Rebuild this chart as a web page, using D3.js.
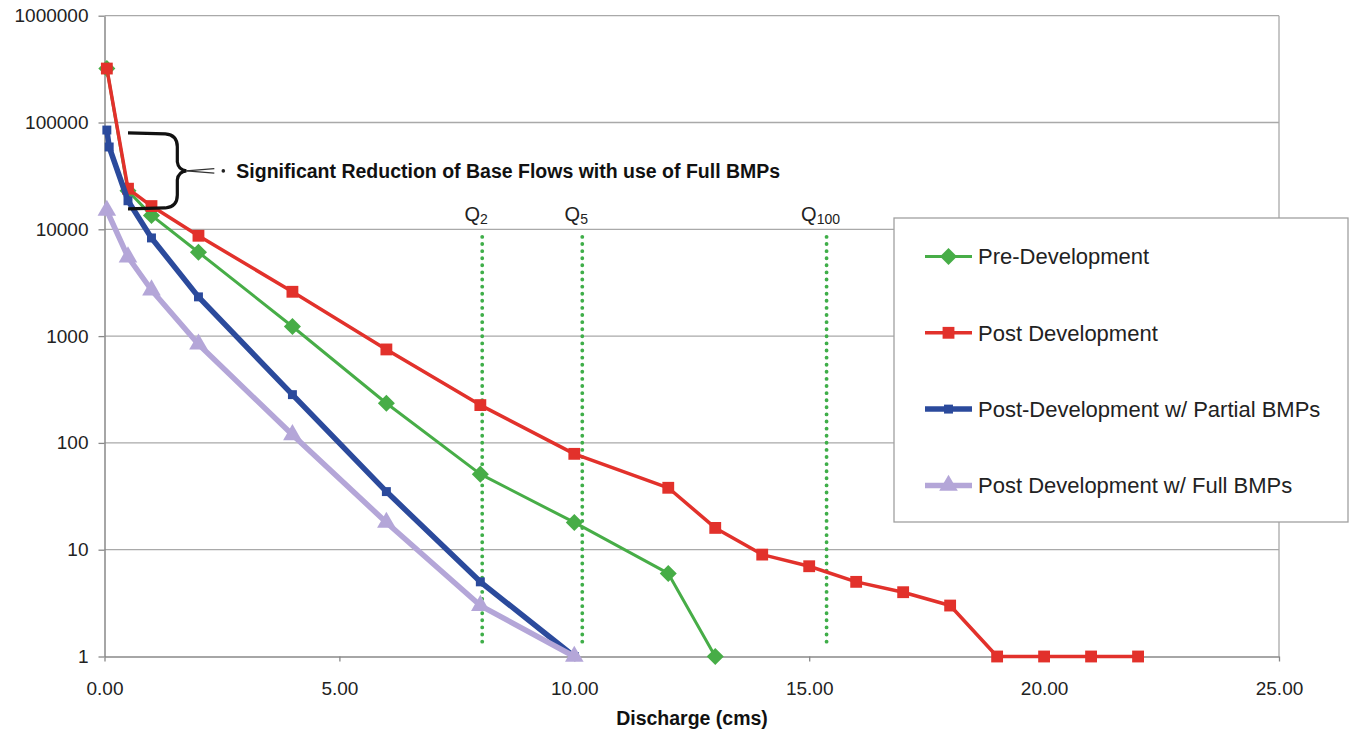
<!DOCTYPE html>
<html>
<head>
<meta charset="utf-8">
<script src="https://cdn.jsdelivr.net/npm/d3@7"></script>
<style>
  body { margin: 0; background: #fff; }
  svg { display: block; font-family: "Liberation Sans", Arial, sans-serif; }
</style>
</head>
<body>
<svg width="1353" height="733"></svg>
<script>
// series data
var xPre = [0.05, 0.5, 1, 2, 4, 6, 8, 10, 12, 13];
var yPre = [320000, 23000, 13500, 6100, 1230, 235, 51, 18, 6, 1];

var xPost = [0.05, 0.5, 1, 2, 4, 6, 8, 10, 12, 13, 14, 15, 16, 17, 18, 19, 20, 21, 22];
var yPost = [320000, 24000, 16500, 8700, 2600, 750, 226, 79, 38, 16, 9, 7, 5, 4, 3, 1, 1, 1, 1];

var xPartial = [0.05, 0.1, 0.5, 1, 2, 4, 6, 8, 10];
var yPartial = [85000, 59000, 18500, 8300, 2330, 283, 35, 5, 1];

var xFull = [0.05, 0.5, 1, 2, 4, 6, 8, 10];
var yFull = [15000, 5500, 2700, 840, 119, 18, 3, 1];

var seriesNames = ['Pre-Development', 'Post Development', 'Post-Development w/ Partial BMPs', 'Post Development w/ Full BMPs'];

var xTicks = [0, 5, 10, 15, 20, 25];
var yTicks = [1, 10, 100, 1000, 10000, 100000, 1000000];

// return-period discharges
var qLabels = ['2', '5', '100'];
var qValues = [8.04, 10.17, 15.37];
var qRange = [1.2, 8500];

// bracket annotation (data units)
var braceX = [0.5, 1.55];
var braceY = [80000, 15500];
var noteText = 'Significant Reduction of Base Flows with use of Full BMPs';

var svg = d3.select('svg');
var plotLeft = 104.5, plotRight = 1279, plotTop = 15.7, plotBottom = 656.5;

var x = d3.scaleLinear().domain([0, 25]).range([plotLeft, plotRight]);
var y = d3.scaleLog().domain([1, 1e6]).range([plotBottom, plotTop]);

//////////// GRID ////////////
svg.append('g')
  .selectAll('line')
  .data(yTicks.slice(1))
  .enter()
  .append('line')
  .attr('x1', plotLeft).attr('x2', plotRight)
  .attr('y1', function (d) { return y(d); })
  .attr('y2', function (d) { return y(d); })
  .attr('stroke', '#a9a9a9')
  .attr('stroke-width', 1.3);

svg.append('line')
  .attr('x1', plotRight).attr('x2', plotRight)
  .attr('y1', plotTop).attr('y2', plotBottom)
  .attr('stroke', '#a9a9a9')
  .attr('stroke-width', 1.3);

//////////// AXES ////////////
var xAxis = svg.append('g')
  .attr('transform', 'translate(0,' + plotBottom + ')')
  .call(d3.axisBottom(x).tickValues(xTicks).tickFormat(d3.format('.2f')).tickSize(5).tickSizeOuter(0).tickPadding(20));

var yAxis = svg.append('g')
  .attr('transform', 'translate(' + plotLeft + ',0)')
  .call(d3.axisLeft(y).tickValues(yTicks).tickFormat(d3.format('d')).tickSize(6).tickSizeOuter(0).tickPadding(10));

[xAxis, yAxis].forEach(function (a) {
  a.select('.domain').attr('stroke', '#888').attr('stroke-width', 1.5);
  a.selectAll('.tick line').attr('stroke', '#888').attr('stroke-width', 1.3);
  a.selectAll('.tick text')
    .attr('fill', '#222')
    .style('font-size', '19px')
    .style('font-family', '"Liberation Sans", Arial, sans-serif');
});

svg.append('text')
  .attr('x', 692)
  .attr('y', 725)
  .attr('text-anchor', 'middle')
  .style('font-size', '19.5px')
  .style('font-weight', 'bold')
  .attr('fill', '#111')
  .text('Discharge (cms)');

//////////// Q LINES ////////////
var qg = svg.append('g');
qg.selectAll('line')
  .data(qValues)
  .enter()
  .append('line')
  .attr('x1', function (d) { return x(d); })
  .attr('x2', function (d) { return x(d); })
  .attr('y1', y(qRange[1]))
  .attr('y2', y(qRange[0]))
  .attr('stroke', '#3fae49')
  .attr('stroke-width', 3.8)
  .attr('stroke-linecap', 'round')
  .attr('stroke-dasharray', '0.1,7');

var ql = qg.selectAll('text.q')
  .data(qValues)
  .enter()
  .append('text')
  .attr('class', 'q')
  .attr('x', function (d) { return x(d) - 6; })
  .attr('y', 221)
  .attr('text-anchor', 'middle')
  .attr('fill', '#222')
  .style('font-size', '20px');
ql.append('tspan').text('Q');
ql.append('tspan')
  .attr('dy', 3)
  .style('font-size', '14px')
  .text(function (d, i) { return qLabels[i]; });

//////////// SERIES ////////////
var series = [
  { xs: xPre, ys: yPre, color: '#47ad47', width: 3, marker: 'diamond', size: 185 },
  { xs: xPost, ys: yPost, color: '#e2312b', width: 3.5, marker: 'square', size: 140 },
  { xs: xPartial, ys: yPartial, color: '#2b4a9c', width: 5.5, marker: 'square', size: 80 },
  { xs: xFull, ys: yFull, color: '#b4a6d8', width: 5.5, marker: 'triangle', size: 150 }
];

var symbolType = {
  diamond: d3.symbolDiamond2 || d3.symbolDiamond,
  square: d3.symbolSquare,
  triangle: d3.symbolTriangle
};

var line = d3.line()
  .x(function (d) { return x(d[0]); })
  .y(function (d) { return y(d[1]); });

series.forEach(function (s) {
  var pts = s.xs.map(function (v, i) { return [v, s.ys[i]]; });
  var g = svg.append('g');
  g.append('path')
    .datum(pts)
    .attr('d', line)
    .attr('fill', 'none')
    .attr('stroke', s.color)
    .attr('stroke-width', s.width)
    .attr('stroke-linejoin', 'round');
  g.selectAll('path.m')
    .data(pts)
    .enter()
    .append('path')
    .attr('class', 'm')
    .attr('d', d3.symbol().type(symbolType[s.marker]).size(s.size))
    .attr('transform', function (d) {
      return 'translate(' + x(d[0]) + ',' + y(d[1]) + ')';
    })
    .attr('fill', s.color);
});

//////////// ANNOTATION ////////////
var bx0 = x(braceX[0]), bx1 = x(braceX[1]);
var by0 = y(braceY[0]), by1 = y(braceY[1]);
var bm = (by0 + by1) / 2;
var cusp = bx1 + 9;
var brace = d3.path();
brace.moveTo(bx0, by0);
brace.lineTo(bx1 - 12, by0 + 1);
brace.quadraticCurveTo(bx1, by0 + 2, bx1, by0 + 14);
brace.lineTo(bx1, bm - 9);
brace.quadraticCurveTo(bx1 + 1, bm - 1, cusp, bm);
brace.quadraticCurveTo(bx1 + 1, bm + 1, bx1, bm + 9);
brace.lineTo(bx1, by1 - 14);
brace.quadraticCurveTo(bx1, by1 - 2, bx1 - 12, by1 - 1);
brace.lineTo(bx0, by1);

svg.append('path')
  .attr('d', brace.toString())
  .attr('fill', 'none')
  .attr('stroke', '#111')
  .attr('stroke-width', 3.2);

[-2.2, 2.2].forEach(function (o) {
  svg.append('line')
    .attr('x1', cusp).attr('y1', bm)
    .attr('x2', cusp + 28).attr('y2', bm + o)
    .attr('stroke', '#333')
    .attr('stroke-width', 1.2);
});
svg.append('circle')
  .attr('cx', cusp + 37)
  .attr('cy', bm)
  .attr('r', 1.8)
  .attr('fill', '#222');

svg.append('text')
  .attr('x', cusp + 50)
  .attr('y', bm + 7)
  .style('font-size', '19.5px')
  .style('font-weight', 'bold')
  .attr('fill', '#111')
  .text(noteText);

//////////// LEGEND ////////////
var legend = svg.append('g');
legend.append('rect')
  .attr('x', 894).attr('y', 218)
  .attr('width', 454).attr('height', 304)
  .attr('fill', '#fff')
  .attr('stroke', '#a0a0a0')
  .attr('stroke-width', 1.3);

var rows = legend.selectAll('g.row')
  .data(series)
  .enter()
  .append('g')
  .attr('class', 'row')
  .attr('transform', function (d, i) { return 'translate(0,' + (256.5 + i * 76.3) + ')'; });

rows.append('line')
  .attr('x1', 925).attr('x2', 972)
  .attr('stroke', function (d) { return d.color; })
  .attr('stroke-width', function (d) { return d.width; });
rows.append('path')
  .attr('d', function (d) { return d3.symbol().type(symbolType[d.marker]).size(d.size)(); })
  .attr('transform', 'translate(948.5,0)')
  .attr('fill', function (d) { return d.color; });
rows.append('text')
  .attr('x', 978)
  .attr('dy', '0.36em')
  .style('font-size', '22px')
  .attr('fill', '#222')
  .text(function (d, i) { return seriesNames[i]; });
</script>
</body>
</html>
